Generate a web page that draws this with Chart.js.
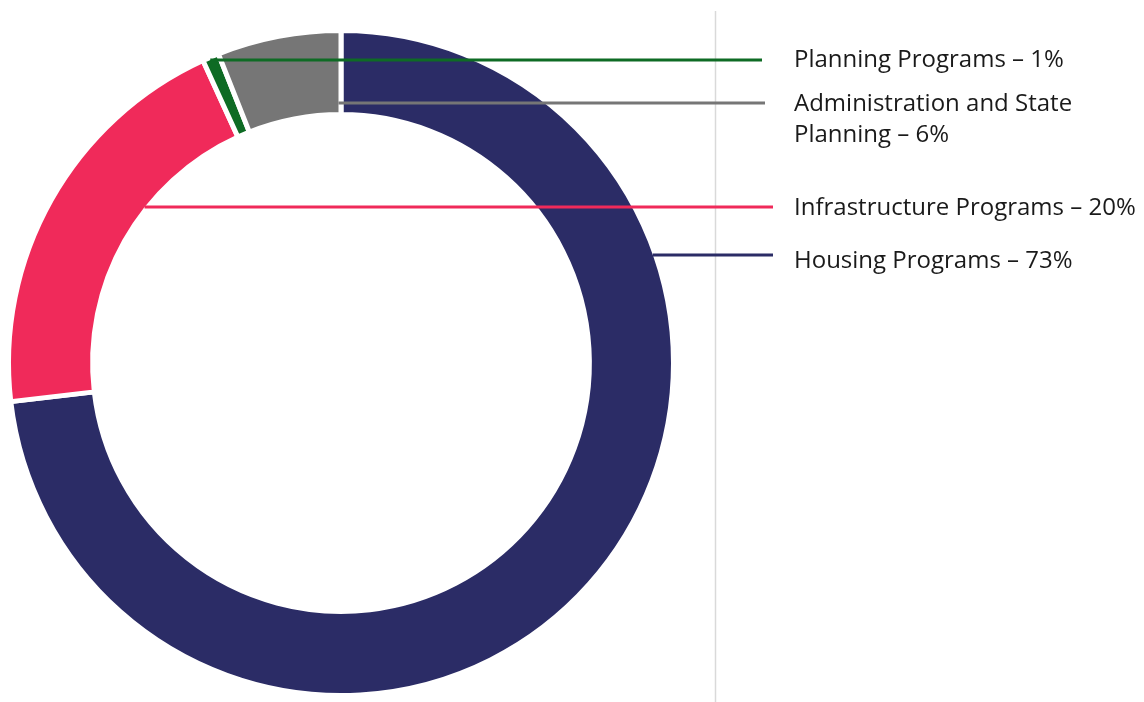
<!DOCTYPE html>
<html>
  <head>
    <title>Program spending - Doughnut</title>
    <script src="https://cdn.jsdelivr.net/npm/chart.js@4/dist/chart.umd.min.js"></script>
    <style>
      html, body { margin: 0; padding: 0; background: #fff; }
      canvas { display: block; }
    </style>
  </head>
  <body>
    <canvas id="canvas" width="1144" height="702"></canvas>
    <script>
      // data, clockwise from 12 o'clock
      var categories = ['Housing Programs', 'Infrastructure Programs', 'Planning Programs', 'Administration and State Planning'];
      var shares = [73, 20, 0.8, 6];
      var shareLabels = ['73%', '20%', '1%', '6%'];
      var labelLines = [
        ['Housing Programs \u2013 73%'],
        ['Infrastructure Programs \u2013 20%'],
        ['Planning Programs \u2013 1%'],
        ['Administration and State', 'Planning \u2013 6%']
      ];
      var sliceColors = ['#2b2c66', '#f02a5a', '#0e6b24', '#767676'];

      var BORDER = 5;

      // where each callout goes: y of the leader line, where it starts on the ring, where it ends
      var callouts = [
        { index: 2, y: 60,  from: 'outerLeft', toX: 762, textDy: 0 },
        { index: 3, y: 103, from: 'sliceEnd',  toX: 765, textDy: 1 },
        { index: 1, y: 207, from: 'innerLeft', toX: 773, textDy: 1 },
        { index: 0, y: 255, from: 'outerRight', toX: 773, textDy: 6 }
      ];
      var textX = 794;
      var lineGap = 31;

      var calloutPlugin = {
        id: 'callouts',
        afterDraw: function(chart) {
          var ctx = chart.ctx;
          var meta = chart.getDatasetMeta(0);
          var first = meta.data[0];
          var cx = first.x, cy = first.y;
          var outer = first.outerRadius - BORDER / 2;
          var inner = first.innerRadius + BORDER / 2;

          ctx.save();
          // thin divider
          ctx.strokeStyle = '#d9d9d9';
          ctx.lineWidth = 1.5;
          ctx.beginPath();
          ctx.moveTo(715.5, 11);
          ctx.lineTo(715.5, 702);
          ctx.stroke();

          callouts.forEach(function(c) {
            var dy = c.y - cy;
            var x0;
            if (c.from === 'outerLeft') x0 = cx - Math.sqrt(outer * outer - dy * dy);
            else if (c.from === 'outerRight') x0 = cx + Math.sqrt(outer * outer - dy * dy);
            else if (c.from === 'innerLeft') x0 = cx - Math.sqrt(inner * inner - dy * dy);
            else x0 = cx - BORDER / 2;

            ctx.strokeStyle = sliceColors[c.index];
            ctx.lineWidth = 3;
            ctx.beginPath();
            ctx.moveTo(x0, c.y);
            ctx.lineTo(c.toX, c.y);
            ctx.stroke();

            ctx.fillStyle = '#1a1a1a';
            ctx.font = '24px "Open Sans", sans-serif';
            ctx.textBaseline = 'middle';
            ctx.textAlign = 'left';
            labelLines[c.index].forEach(function(t, i) {
              ctx.fillText(t, textX, c.y + c.textDy + i * lineGap);
            });
          });
          ctx.restore();
        }
      };

      var config = {
        type: 'doughnut',
        data: {
          labels: categories,
          datasets: [{
            data: shares,
            backgroundColor: sliceColors,
            borderColor: '#ffffff',
            borderWidth: BORDER,
            label: 'Share'
          }]
        },
        options: {
          responsive: false,
          animation: false,
          cutout: '74.7%',
          layout: { padding: { left: 6, top: 28, right: 468, bottom: 4 } },
          plugins: {
            legend: { display: false },
            tooltip: { enabled: false }
          }
        },
        plugins: [calloutPlugin]
      };

      var ctx = document.getElementById('canvas').getContext('2d');
      window.myDoughnut = new Chart(ctx, config);
    </script>
  </body>
</html>
